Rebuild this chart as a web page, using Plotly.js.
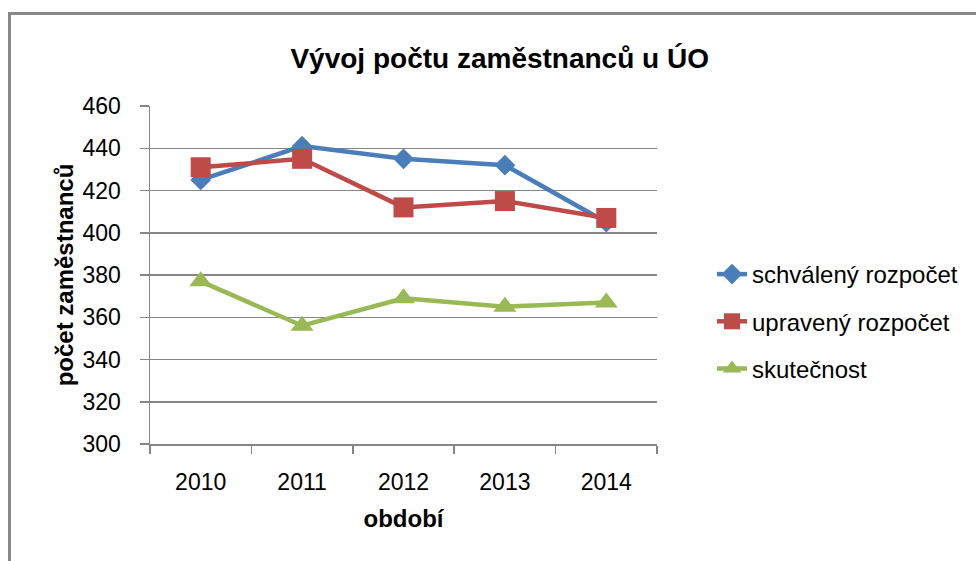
<!DOCTYPE html>
<html>
<head>
<meta charset="utf-8">
<script src="https://cdn.plot.ly/plotly-3.0.1.min.js"></script>
<style>html,body{margin:0;padding:0;background:#fff;}#chart{width:976px;height:561px;}</style>
</head>
<body>
<div id="chart"></div>
<script>
var categories = ['2010', '2011', '2012', '2013', '2014'];
var schvaleny = [425, 441, 435, 432, 405];
var upraveny = [431, 435, 412, 415, 407];
var skutecnost = [377, 356, 369, 365, 367];
var seriesNames = ['schválený rozpočet', 'upravený rozpočet', 'skutečnost'];
var yTicks = [300, 320, 340, 360, 380, 400, 420, 440, 460];

var FONT = 'Liberation Sans, Arial, sans-serif';
var GRID = '#868686';

var traces = [
  {x: categories, y: schvaleny, name: seriesNames[0], legendgroup: 'a', type: 'scatter', mode: 'lines+markers',
   line: {color: '#4a7ebb', width: 4.5}, marker: {symbol: 'diamond', size: 16, color: '#4a7ebb'}},
  {x: categories, y: upraveny, name: seriesNames[1], legendgroup: 'b', type: 'scatter', mode: 'lines+markers',
   line: {color: '#be4b48', width: 4.5}, marker: {symbol: 'square', size: 20, color: '#be4b48'}},
  {x: categories, y: skutecnost, name: seriesNames[2], legendgroup: 'c', type: 'scatter', mode: 'lines+markers',
   line: {color: '#98b954', width: 4.5}, marker: {symbol: 'triangle-up', size: 20, color: '#98b954'}}
];

var W = 507, H = 338, L = 150, T = 106;
function px(x) { return (x - L) / W; }
function py(y) { return (T + H - y) / H; }

var layout = {
  width: 976, height: 561,
  margin: {l: L, r: 976 - L - W, t: T, b: 561 - T - H, pad: 0},
  paper_bgcolor: '#ffffff', plot_bgcolor: '#ffffff',
  font: {family: FONT, size: 23, color: '#000'},
  title: {text: 'Vývoj počtu zaměstnanců u ÚO', font: {family: FONT, size: 28, color: '#000', weight: 'bold'},
          x: 0.512, xanchor: 'center', y: 0.897, yanchor: 'middle'},
  xaxis: {type: 'category', range: [-0.5, 4.5], tickson: 'boundaries', ticks: 'outside', ticklen: 8, tickcolor: GRID, tickwidth: 1.5,
          showline: true, linecolor: GRID, linewidth: 1.5, showgrid: false, zeroline: false,
          ticklabelstandoff: 17, tickfont: {family: FONT, size: 23, color: '#000'},
          title: {text: 'období', font: {family: FONT, size: 24, color: '#000', weight: 'bold'}, standoff: 16}},
  yaxis: {range: [300, 460], tickvals: yTicks, ticks: 'outside', ticklen: 9, tickcolor: GRID, tickwidth: 1.5,
          showline: true, linecolor: GRID, linewidth: 1.5, showgrid: true, gridcolor: GRID, gridwidth: 1.5,
          zeroline: false, ticklabelstandoff: 14, tickfont: {family: FONT, size: 23, color: '#000'},
          title: {text: 'počet zaměstnanců', font: {family: FONT, size: 24, color: '#000', weight: 'bold'}, standoff: 2}},
  legend: {x: px(712), y: py(252), xanchor: 'left', yanchor: 'top', traceorder: 'grouped', tracegroupgap: 13,
           font: {family: FONT, size: 24, color: '#000'}, bgcolor: 'rgba(0,0,0,0)'},
  showlegend: true,
  shapes: [
    {type: 'line', xref: 'paper', yref: 'paper', x0: px(9.5), x1: px(980), y0: py(13.5), y1: py(13.5), line: {color: '#888', width: 3}},
    {type: 'line', xref: 'paper', yref: 'paper', x0: px(9.5), x1: px(9.5), y0: py(12), y1: py(565), line: {color: '#888', width: 3}}
  ]
};

Plotly.newPlot('chart', traces, layout, {displayModeBar: false, staticPlot: true});
</script>
</body>
</html>
